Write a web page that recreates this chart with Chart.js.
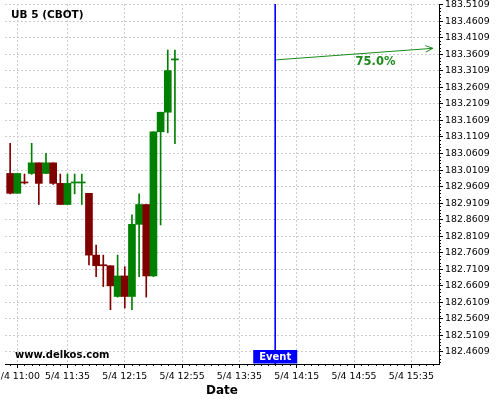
<!DOCTYPE html>
<html>
<head>
<meta charset="utf-8">
<script src="https://cdn.jsdelivr.net/npm/chart.js@4.4.1/dist/chart.umd.min.js"></script>
<style>
html,body{margin:0;padding:0;background:#fff;}
#wrap{width:500px;height:400px;}
</style>
</head>
<body>
<div id="wrap"><canvas id="c" width="500" height="400"></canvas></div>
<script>
// ---- data (times in minutes since midnight, 5/4) ----
const candleTimes = [655,660,665,670,675,680,685,690,695,700,705,710,715,720,725,730,735,740,745,750,755,760,765,770];
const openVals  = [183.0007,182.9407,182.9729,183.0007,183.0328,183.0007,183.0328,182.9707,182.9068,182.9719,182.9719,182.9407,182.7538,182.7227,182.7217,182.6287,182.6908,182.6287,182.8468,182.9068,182.6908,183.1267,183.1858,183.3439];
const highVals  = [183.0919,183.0007,182.9989,183.0919,183.0328,183.0619,183.0328,182.9989,182.9989,182.9989,182.9989,182.9407,182.7838,182.7538,182.7217,182.7538,182.7187,182.8759,182.9389,182.9068,183.1267,183.1858,183.3739,183.3739];
const lowVals   = [182.9389,182.9407,182.9689,182.9977,182.9068,183.0007,182.9677,182.9068,182.9068,182.9389,182.9068,182.7238,182.6887,182.6587,182.5888,182.6268,182.5939,182.5888,182.6887,182.6269,182.6887,182.8450,183.1237,183.0907];
const closeVals = [182.9407,183.0007,182.9719,183.0328,182.9707,183.0328,182.9707,182.9068,182.9707,182.9729,182.9729,182.7538,182.7217,182.7217,182.6608,182.6908,182.6287,182.8468,182.9068,182.6908,183.1267,183.1858,183.3118,183.3449];

const xTickValues = [660,695,735,775,815,855,895,935];
const xTickLabels = ['5/4 11:00','5/4 11:35','5/4 12:15','5/4 12:55','5/4 13:35','5/4 14:15','5/4 14:55','5/4 15:35'];
const yTickValues = [182.4609,182.5109,182.5609,182.6109,182.6609,182.7109,182.7609,182.8109,182.8609,182.9109,182.9609,183.0109,183.0609,183.1109,183.1609,183.2109,183.2609,183.3109,183.3609,183.4109,183.4609,183.5109];
const yTickLabels = ['182.4609','182.5109','182.5609','182.6109','182.6609','182.7109','182.7609','182.8109','182.8609','182.9109','182.9609','183.0109','183.0609','183.1109','183.1609','183.2109','183.2609','183.3109','183.3609','183.4109','183.4609','183.5109'];

const eventTime = 840;            // 14:00
const arrowStart = {x: 840, y: 183.3439};
const arrowEnd   = {x: 950, y: 183.379};
const arrowLabel = '75.0%';
const arrowLabelPos = {x: 910, y: 183.3366};
const chartTitle = 'UB 5 (CBOT)';
const watermark = 'www.delkos.com';
const eventLabel = 'Event';
const xTitle = 'Date';

const xMin = 651.4, xMax = 954.3;
const yMin = 182.4246, yMax = 183.513;

const UP = '#008000', DOWN = '#800000';
const candleColors = candleTimes.map((t,i) => closeVals[i] >= openVals[i] ? UP : DOWN);
const FONT = "'DejaVu Sans', sans-serif";

const overlay = {
  id: 'overlay',
  afterDraw(chart) {
    const ctx = chart.ctx, xs = chart.scales.x, ys = chart.scales.y, ca = chart.chartArea;
    ctx.save();
    ctx.strokeStyle = '#000'; ctx.lineWidth = 1;
    ctx.beginPath();
    // minor ticks on x axis (every 5 minutes)
    for (let t = 655; t <= 950; t += 5) {
      if (xTickValues.includes(t)) continue;
      const px = Math.round(xs.getPixelForValue(t)) + 0.5;
      if (px < ca.left || px > ca.right) continue;
      ctx.moveTo(px, ca.bottom); ctx.lineTo(px, ca.bottom + 2);
    }
    // minor ticks on y axis (every 0.01)
    for (let k = -3; k <= 105; k++) {
      if (k % 5 === 0) continue;
      const v = yTickValues[0] + k * 0.01;
      const py = Math.round(ys.getPixelForValue(v)) + 0.5;
      if (py < ca.top || py > ca.bottom) continue;
      ctx.moveTo(ca.right, py); ctx.lineTo(ca.right + 2, py);
    }
    ctx.stroke();
    // arrowhead
    const ax = xs.getPixelForValue(arrowEnd.x), ay = ys.getPixelForValue(arrowEnd.y);
    const bx = xs.getPixelForValue(arrowStart.x), by = ys.getPixelForValue(arrowStart.y);
    const ang = Math.atan2(ay - by, ax - bx);
    ctx.strokeStyle = '#1a8a1a'; ctx.lineWidth = 1;
    ctx.beginPath();
    ctx.moveTo(ax - 8*Math.cos(ang - 0.42), ay - 8*Math.sin(ang - 0.42));
    ctx.lineTo(ax, ay);
    ctx.lineTo(ax - 8*Math.cos(ang + 0.42), ay - 8*Math.sin(ang + 0.42));
    ctx.stroke();
    // arrow label
    ctx.fillStyle = '#1a8a1a';
    ctx.font = "bold 11.5px " + FONT;
    ctx.textAlign = 'center'; ctx.textBaseline = 'middle';
    ctx.fillText(arrowLabel, xs.getPixelForValue(arrowLabelPos.x), ys.getPixelForValue(arrowLabelPos.y));
    // event box
    const ex = xs.getPixelForValue(eventTime);
    ctx.fillStyle = '#0000ff';
    ctx.fillRect(ex - 22, ca.bottom - 14, 44, 13.5);
    ctx.fillStyle = '#fff';
    ctx.font = "bold 10px " + FONT;
    ctx.fillText(eventLabel, ex, ca.bottom - 7);
    // title + watermark
    ctx.fillStyle = '#000';
    ctx.textAlign = 'left';
    ctx.font = "bold 10.5px " + FONT;
    ctx.fillText(chartTitle, 11, 15);
    ctx.font = "bold 10px " + FONT;
    ctx.fillText(watermark, 15, 355);
    ctx.restore();
  }
};

new Chart(document.getElementById('c'), {
  type: 'bar',
  data: {
    datasets: [
      {
        type: 'line', order: 0,
        data: [{x: eventTime, y: yMax}, {x: eventTime, y: yMin}],
        borderColor: '#0000ff', borderWidth: 1, pointRadius: 0, fill: false
      },
      {
        type: 'line', order: 0,
        data: [arrowStart, arrowEnd],
        borderColor: '#1a8a1a', borderWidth: 1, pointRadius: 0, fill: false
      },
      {
        type: 'bar', order: 1,
        data: candleTimes.map((t,i) => ({x: t, y: [openVals[i], closeVals[i]]})),
        backgroundColor: candleColors, borderWidth: 0,
        barThickness: 7, minBarLength: 1, grouped: false
      },
      {
        type: 'bar', order: 2,
        data: candleTimes.map((t,i) => ({x: t, y: [lowVals[i], highVals[i]]})),
        backgroundColor: candleColors, borderWidth: 0,
        barThickness: 1, grouped: false
      }
    ]
  },
  options: {
    responsive: false,
    animation: false,
    layout: {padding: {left: 5, top: 4, right: 0, bottom: 0}},
    plugins: {legend: {display: false}, tooltip: {enabled: false}, title: {display: false}},
    scales: {
      x: {
        type: 'linear', min: xMin, max: xMax, offset: false,
        grid: {offset: false, color: '#cdcdcd', lineWidth: 1,
               tickColor: '#000', tickLength: 4, tickBorderDash: [], drawTicks: true},
        border: {display: true, color: '#000', width: 1, dash: [2,2]},
        ticks: {autoSkip: false, maxRotation: 0, minRotation: 0, padding: 3, color: '#000',
                font: {family: FONT, size: 9.4},
                callback: (v, i) => xTickLabels[i]},
        afterBuildTicks: s => { s.ticks = xTickValues.map(v => ({value: v})); },
        afterFit: s => { s.height = 36; s.paddingLeft = 0; s.paddingRight = 0; },
        title: {display: true, text: xTitle, color: '#000', font: {family: FONT, size: 12, weight: 'bold'},
                padding: {top: 0, bottom: 2}}
      },
      y: {
        type: 'linear', position: 'right', min: yMin, max: yMax, beginAtZero: false,
        grid: {color: '#cdcdcd', lineWidth: 1,
               tickColor: '#000', tickLength: 4, tickBorderDash: [], drawTicks: true},
        border: {display: true, color: '#000', width: 1, dash: [2,2]},
        ticks: {autoSkip: false, padding: 2, color: '#000', font: {family: FONT, size: 9.4},
                callback: (v, i) => yTickLabels[i]},
        afterBuildTicks: s => { s.ticks = yTickValues.map(v => ({value: v})); },
        afterFit: s => { s.width = 61; s.paddingTop = 0; s.paddingBottom = 0; }
      }
    }
  },
  plugins: [overlay]
});
</script>
</body>
</html>
